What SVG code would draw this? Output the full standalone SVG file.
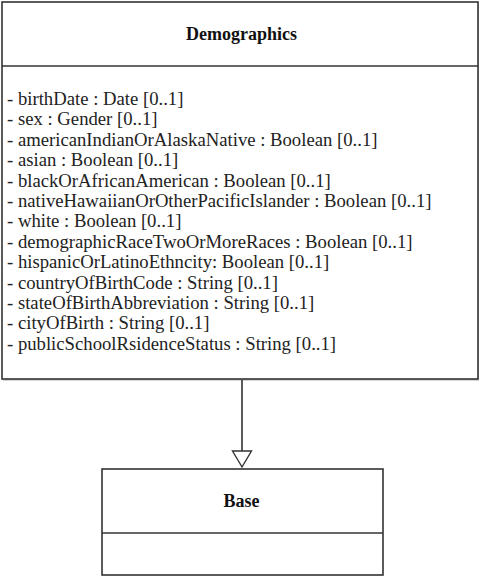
<svg xmlns="http://www.w3.org/2000/svg" width="483" height="577" viewBox="0 0 483 577">
<style>
.box{fill:#fff;stroke:#333;stroke-width:1.6}
.sep{stroke:#333;stroke-width:1.6}
.title{font-family:"Liberation Serif","Times New Roman",serif;font-weight:bold;font-size:18px;fill:#111;text-anchor:middle}
.attr{font-family:"Liberation Serif","Times New Roman",serif;font-size:18.7px;fill:#222}
.edge{stroke:#333;stroke-width:1.6;fill:none}
.head{fill:#fff;stroke:#333;stroke-width:1.4}
</style>
<rect width="483" height="577" fill="#fff"/>
<g id="Demographics">
<rect x="3" y="4" width="476" height="377" fill="#bbb" opacity="0.6"/>
<rect class="box" x="2" y="2" width="476" height="377"/>
<line class="sep" x1="2" y1="66" x2="478" y2="66"/>
<text class="title" x="241.5" y="40">Demographics</text>
<text class="attr" x="7" y="105">- birthDate : Date [0..1]</text>
<text class="attr" x="7" y="125.4">- sex : Gender [0..1]</text>
<text class="attr" x="7" y="145.8">- americanIndianOrAlaskaNative : Boolean [0..1]</text>
<text class="attr" x="7" y="166.2">- asian : Boolean [0..1]</text>
<text class="attr" x="7" y="186.6">- blackOrAfricanAmerican : Boolean [0..1]</text>
<text class="attr" x="7" y="207">- nativeHawaiianOrOtherPacificIslander : Boolean [0..1]</text>
<text class="attr" x="7" y="227.4">- white : Boolean [0..1]</text>
<text class="attr" x="7" y="247.8">- demographicRaceTwoOrMoreRaces : Boolean [0..1]</text>
<text class="attr" x="7" y="268.2">- hispanicOrLatinoEthncity: Boolean [0..1]</text>
<text class="attr" x="7" y="288.6">- countryOfBirthCode : String [0..1]</text>
<text class="attr" x="7" y="309">- stateOfBirthAbbreviation : String [0..1]</text>
<text class="attr" x="7" y="329.4">- cityOfBirth : String [0..1]</text>
<text class="attr" x="7" y="349.8">- publicSchoolRsidenceStatus : String [0..1]</text>
</g>
<g id="Base">
<rect class="box" x="102" y="469" width="281" height="106"/>
<line class="sep" x1="102" y1="533" x2="383" y2="533"/>
<text class="title" x="241.5" y="507">Base</text>
</g>
<g id="connectors">
<line class="edge" x1="242" y1="380" x2="242" y2="451"/>
<polygon class="head" points="232.5,451 251.5,451 242,467"/>
</g>
</svg>
